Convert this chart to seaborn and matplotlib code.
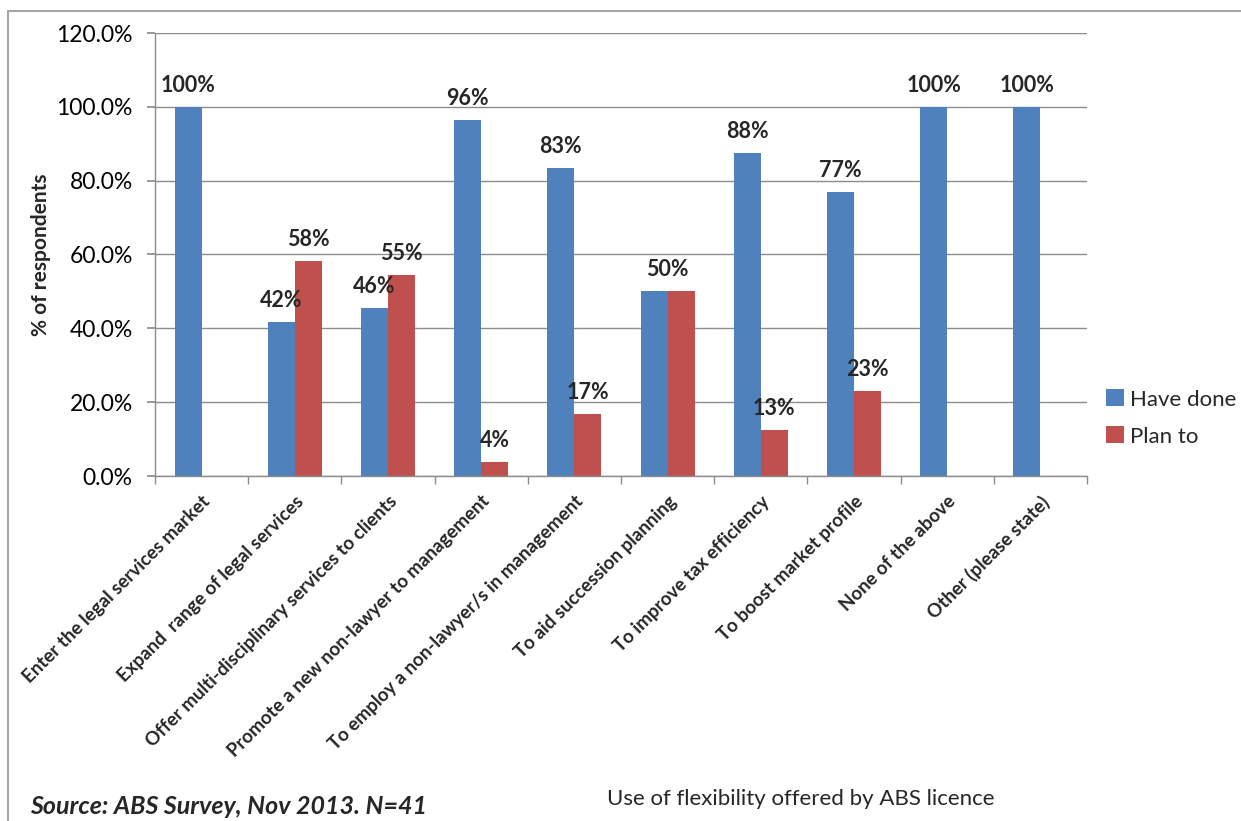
import numpy as np
import pandas as pd
import matplotlib
matplotlib.use("Agg")
import matplotlib.pyplot as plt
from matplotlib.patches import Rectangle
from matplotlib.ticker import FuncFormatter, FixedLocator
import seaborn as sns

categories = [
    "Enter the legal services market",
    "Expand  range of legal services",
    "Offer multi-disciplinary services to clients",
    "Promote a new non-lawyer to management",
    "To employ a non-lawyer/s in management",
    "To aid succession planning",
    "To improve tax efficiency",
    "To boost market profile",
    "None of the above",
    "Other (please state)",
]
have_done = [100.0, 41.7, 45.5, 96.3, 83.3, 50.0, 87.5, 76.9, 100.0, 100.0]
plan_to = [np.nan, 58.3, 54.5, 3.7, 16.7, 50.0, 12.5, 23.1, np.nan, np.nan]
series = ["Have done", "Plan to"]
colors = ["#4F81BD", "#C0504D"]
yticks = [0, 20, 40, 60, 80, 100, 120]

rows = []
for c, h, p in zip(categories, have_done, plan_to):
    if not np.isnan(h):
        rows.append({"cat": c, "series": series[0], "val": h})
    if not np.isnan(p):
        rows.append({"cat": c, "series": series[1], "val": p})
df = pd.DataFrame(rows)

sns.set_theme(style="white")
plt.rcParams["font.family"] = ["Lato", "DejaVu Sans"]

fig = plt.figure(figsize=(12.41, 8.21), dpi=100)
ax = fig.add_axes([155/1241, 1-476/821, (1087-155)/1241, (476-33)/821])

sns.barplot(data=df, x="cat", y="val", hue="series", order=categories,
            hue_order=series, palette=colors, width=0.58, errorbar=None,
            saturation=1, ax=ax, edgecolor="none")

ax.set_ylim(0, 120)
ax.set_xlim(-0.5, len(categories)-0.5)
ax.yaxis.set_major_locator(FixedLocator(yticks))
ax.yaxis.set_major_formatter(FuncFormatter(lambda v, p: f"{v:.1f}%"))
ax.grid(axis="y", color="#8C8C8C", linewidth=1)
ax.set_axisbelow(True)
for s in ["top", "right"]:
    ax.spines[s].set_visible(False)
for s in ["left", "bottom"]:
    ax.spines[s].set_color("#8C8C8C")
    ax.spines[s].set_linewidth(1)

ax.tick_params(axis="y", which="major", length=6, color="#8C8C8C", direction="out",
               left=True, labelsize=16.5, pad=10, labelcolor="black")
ax.set_xticks(range(len(categories)))
ax.set_xticklabels(categories, rotation=45, ha="right", rotation_mode="anchor",
                   fontsize=13.5, fontweight="bold")
ax.tick_params(axis="x", which="major", length=0, pad=12)
ax.set_xticks(np.arange(-0.5, len(categories)), minor=True)
ax.tick_params(axis="x", which="minor", length=6, color="#8C8C8C", direction="out", bottom=True)

ax.set_ylabel("% of respondents", fontsize=15, fontweight="bold", labelpad=4)
ax.set_xlabel("")


def pct(v):
    return f"{int(v + 0.5 + 1e-9)}%"


# data labels
half = 0.58 / 4
for i, (h, p) in enumerate(zip(have_done, plan_to)):
    if not np.isnan(p) and round(h) == round(p):
        ax.annotate(pct(h), (i, h), xytext=(0, 8), textcoords="offset points",
                    ha="center", va="bottom", fontsize=15.5, fontweight="bold")
        continue
    ax.annotate(pct(h), (i - half, h), xytext=(0, 8), textcoords="offset points",
                ha="center", va="bottom", fontsize=15.5, fontweight="bold")
    if not np.isnan(p):
        ax.annotate(pct(p), (i + half, p), xytext=(0, 8), textcoords="offset points",
                    ha="center", va="bottom", fontsize=15.5, fontweight="bold")

leg = ax.legend(loc="center left", frameon=False, fontsize=16,
                handlelength=0.8, handleheight=0.8, handletextpad=0.3, labelspacing=0.75)
leg.set_bbox_to_anchor((1086/1241, 1-418/821), transform=fig.transFigure)

fig.text(607/1241, 1-799/821, "Use of flexibility offered by ABS licence",
         fontsize=16, ha="left", va="center")
fig.text(30/1241, 1-818/821, "Source: ABS Survey, Nov 2013. N=41",
         fontsize=18, fontweight="bold", fontstyle="italic", ha="left", va="bottom")

fig.patches.append(Rectangle((8/1241, -0.1), 1.2, 1.1 - 11/821,
                             transform=fig.transFigure, fill=False,
                             edgecolor="#A6A6A6", linewidth=1.5))

fig.savefig("out.png", dpi=100)
